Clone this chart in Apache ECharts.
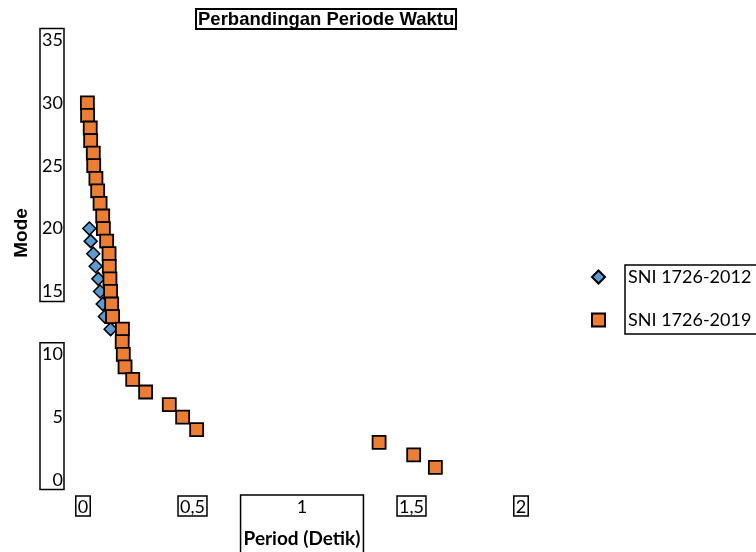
<!DOCTYPE html>
<html>
<head>
<meta charset="utf-8">
<script src="https://cdn.jsdelivr.net/npm/echarts@6/dist/echarts.min.js"></script>
<style>html,body{margin:0;padding:0;background:#fff}#c{width:756px;height:552px}</style>
</head>
<body>
<div id="c"></div>
<script>
const seriesNames = ['SNI 1726-2012', 'SNI 1726-2019'];
const modes2012 = [20, 19, 18, 17, 16, 15, 14, 13, 12];
const period2012 = [0.029, 0.035, 0.047, 0.058, 0.070, 0.078, 0.090, 0.100, 0.126];
const modes2019 = [30, 29, 28, 27, 26, 25, 24, 23, 22, 21, 20, 19, 18, 17, 16, 15, 14, 13, 12, 11, 10, 9, 8, 7, 6, 5, 4, 3, 2, 1];
const period2019 = [0.020, 0.021, 0.033, 0.035, 0.047, 0.049, 0.059, 0.067, 0.078, 0.090, 0.093, 0.108, 0.119, 0.120, 0.123, 0.126, 0.131, 0.135, 0.180, 0.179, 0.184, 0.192, 0.227, 0.286, 0.394, 0.455, 0.519, 1.352, 1.510, 1.609];
const xTicks = [0, 0.5, 1, 1.5, 2];
const yTicks = [0, 5, 10, 15, 20, 25, 30, 35];

const FONT = 'Lato';
const chart = echarts.init(document.getElementById('c'), null, {renderer: 'canvas'});
const boxStyle = {borderColor: '#000', borderWidth: 1.5, padding: [2, 2, 0, 2]};

chart.setOption({
  backgroundColor: '#fff',
  animation: false,
  title: {
    text: 'Perbandingan Periode Waktu',
    left: 196, top: 9,
    padding: [1, 2, 0, 2],
    borderColor: '#000', borderWidth: 2,
    textStyle: {fontFamily: 'Liberation Sans', fontWeight: 'bold', fontSize: 18.5, color: '#000'}
  },
  legend: {
    orient: 'vertical',
    left: 586, top: 263,
    itemGap: 25,
    itemWidth: 13, itemHeight: 13,
    textStyle: {fontFamily: FONT, fontSize: 18, color: '#000', padding: [0, 0, 0, 18]},
    data: seriesNames
  },
  grid: {left: 83, right: 235, top: 40, bottom: 72, containLabel: false, outerBoundsMode: 'none'},
  xAxis: {
    type: 'value', min: 0, max: 2, interval: 0.5,
    name: 'Period (Detik)', nameLocation: 'middle', nameGap: 15, nameMoveOverlap: false,
    nameTextStyle: {fontFamily: FONT, fontWeight: 'bold', fontSize: 19, color: '#000',
      borderColor: '#000', borderWidth: 1.5, padding: [34, 3, 8, 3]},
    axisLine: {show: false}, axisTick: {show: false}, splitLine: {show: false},
    axisLabel: {
      margin: 16,
      formatter: v => {
        const s = String(v).replace('.', ',');
        return v === 1 ? '{n|' + s + '}' : '{b|' + s + '}';
      },
      rich: {
        b: Object.assign({fontFamily: FONT, fontSize: 18, color: '#000'}, boxStyle),
        n: {fontFamily: FONT, fontSize: 18, color: '#000', padding: [2, 2, 0, 2]}
      }
    }
  },
  yAxis: {
    type: 'value', min: 0, max: 35, interval: 5,
    name: 'Mode', nameLocation: 'middle', nameGap: 52, nameRotate: 90, nameMoveOverlap: false,
    nameTextStyle: {fontFamily: 'Liberation Sans', fontWeight: 'bold', fontSize: 19, color: '#000', padding: [0, 0, 0, 54]},
    axisLine: {show: false}, axisTick: {show: false}, splitLine: {show: false},
    axisLabel: {margin: 20, fontFamily: FONT, fontSize: 18, color: '#000'}
  },
  series: [
    {
      name: seriesNames[0], type: 'scatter', symbol: 'diamond', symbolSize: 13,
      itemStyle: {color: '#5B9BD5', borderColor: '#000', borderWidth: 1.5, opacity: 1},
      data: period2012.map((p, i) => [p, modes2012[i]]), z: 2
    },
    {
      name: seriesNames[1], type: 'scatter', symbol: 'rect', symbolSize: 13,
      itemStyle: {color: '#ED7D31', borderColor: '#000', borderWidth: 1.8, opacity: 1},
      data: period2019.map((p, i) => [p, modes2019[i]]), z: 3
    }
  ]
});

// decorative text boxes around the y tick label groups, placed via the axis scale
const py = v => chart.convertToPixel({yAxisIndex: 0}, v);
const boxRect = (top, bottom, left, right) => ({
  type: 'rect', silent: true,
  shape: {x: left, y: top, width: right - left, height: bottom - top},
  style: {fill: null, stroke: '#000', lineWidth: 1.5}
});
chart.setOption({
  graphic: [
    boxRect(py(35) - 11.5, py(15) + 10, 40, 64),
    boxRect(py(10) - 11.5, py(0) + 9.5, 40, 64),
    boxRect(265, 334, 625, 757)
  ]
});
</script>
</body>
</html>
